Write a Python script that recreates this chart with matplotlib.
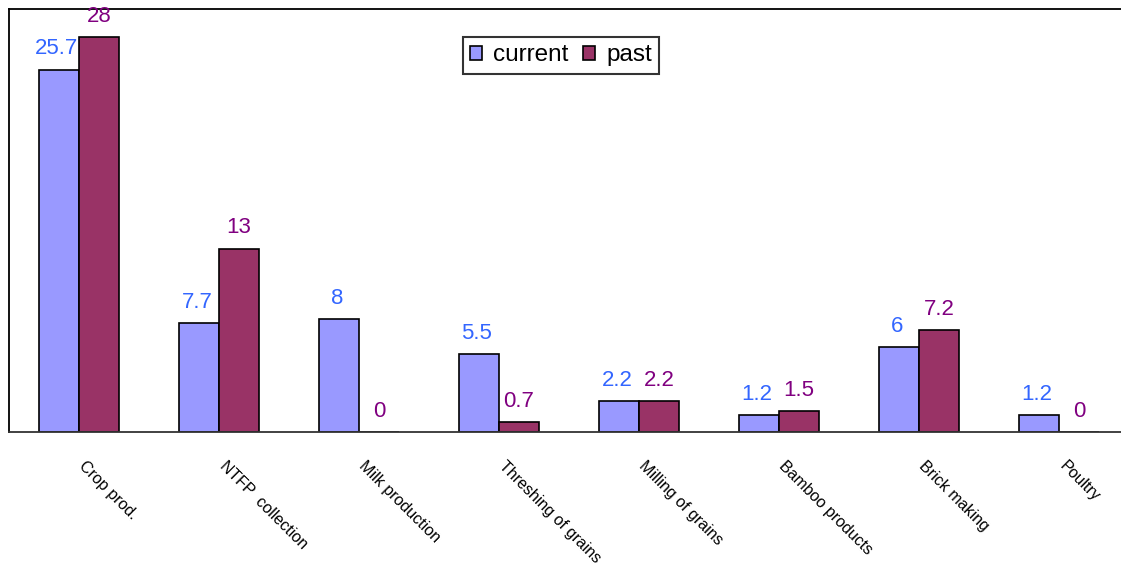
import matplotlib.pyplot as plt
import matplotlib.transforms as mtransforms
import numpy as np

categories = ['Crop prod.', 'NTFP  collection', 'Milk production', 'Threshing of grains',
              'Milling of grains', 'Bamboo products', 'Brick making', 'Poultry']
current = [25.7, 7.7, 8, 5.5, 2.2, 1.2, 6, 1.2]
past = [28, 13, 0, 0.7, 2.2, 1.5, 7.2, 0]

W, H = 1121, 564
fig = plt.figure(figsize=(W / 100, H / 100), dpi=100)
plt.rcParams['font.family'] = ['Liberation Sans', 'DejaVu Sans']

# axes run past the right edge of the picture, as in the original
ax = fig.add_axes([9 / W, (H - 432) / H, 1120 / W, 423 / H])

x = np.arange(len(categories))
w = 0.2857
b1 = ax.bar(x - w / 2, current, w, color='#9999FF', edgecolor='black', linewidth=1.2, label='current')
b2 = ax.bar(x + w / 2, past, w, color='#993366', edgecolor='black', linewidth=1.2, label='past')

for rect, v in zip(b1, current):
    ax.annotate(f'{v:g}', (rect.get_x() + rect.get_width() / 2 - 0.015, v), xytext=(0, 15),
                textcoords='offset points', ha='center', va='center', fontsize=16, color='#3366FF')
for rect, v in zip(b2, past):
    ax.annotate(f'{v:g}', (rect.get_x() + rect.get_width() / 2, v), xytext=(0, 15),
                textcoords='offset points', ha='center', va='center', fontsize=16, color='#800080')

ax.set_xlim(-0.5, len(categories) - 0.5)
ax.set_ylim(0, 30)
ax.set_yticks([])
ax.set_xticks(x)
ax.set_xticklabels(categories, rotation=-45, ha='left', va='top', rotation_mode='anchor',
                   fontsize=11.5)
ax.tick_params(axis='x', length=0, pad=19)
offset = mtransforms.ScaledTranslation(8 / 100, 0, fig.dpi_scale_trans)
for lbl in ax.get_xticklabels():
    lbl.set_transform(lbl.get_transform() + offset)

for s in ax.spines.values():
    s.set_linewidth(1.3)
ax.spines['bottom'].set_color('#333333')

leg = ax.legend(loc='upper left', bbox_to_anchor=((463 - 9) / 1120, (432 - 37) / 423),
                ncol=2, fontsize=17.5, frameon=True, fancybox=False, handlelength=0.5,
                handleheight=0.5, handletextpad=0.45, columnspacing=0.6, borderpad=0.3,
                borderaxespad=0)
leg.get_frame().set_edgecolor('black')
leg.get_frame().set_linewidth(1.5)

fig.savefig('out.png', dpi=100)
